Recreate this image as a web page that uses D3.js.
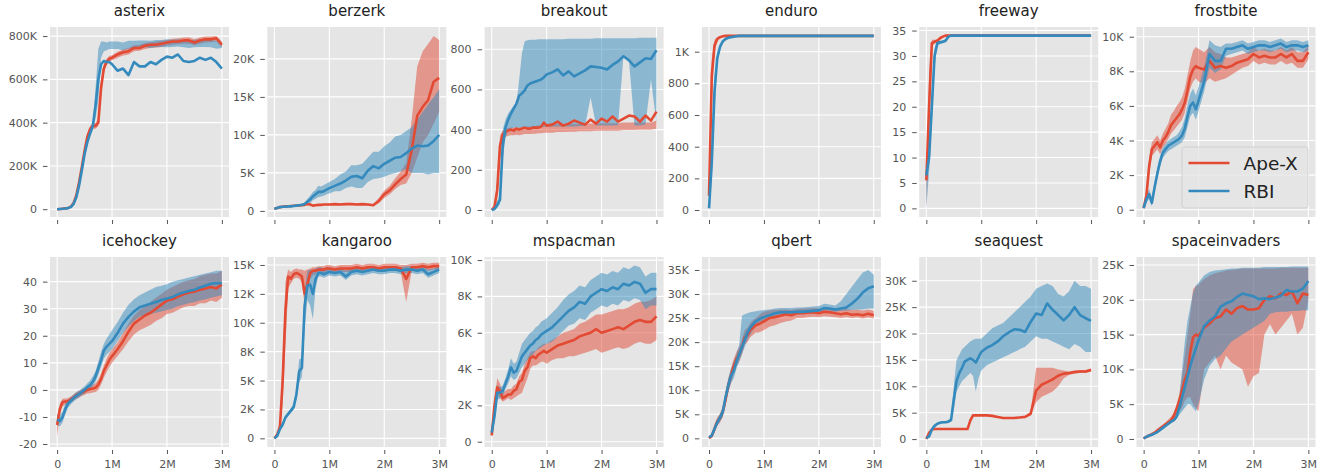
<!DOCTYPE html>
<html>
<head>
<meta charset="utf-8">
<script src="https://cdn.jsdelivr.net/npm/d3@7"></script>
<style>
  body { margin: 0; background: #fff; }
  svg { display: block; font-family: "DejaVu Sans", sans-serif; }
</style>
</head>
<body>
<main></main>
<script>
// training steps, in millions
const steps = [
  0, 0.05, 0.1, 0.15, 0.2, 0.25, 0.3, 0.35, 0.4, 0.45, 0.5,
  0.55, 0.6, 0.65, 0.7, 0.75, 0.8, 0.85, 0.9, 0.95, 1.0,
  1.1, 1.2, 1.3, 1.4, 1.5, 1.6, 1.7, 1.8, 1.9, 2.0,
  2.1, 2.2, 2.3, 2.4, 2.5, 2.6, 2.7, 2.8, 2.9, 3.0,
];
const xTicks = [0, 1, 2, 3];
const xTickLabels = ["0", "1M", "2M", "3M"];

// asterix (K)
const asterixApe = [0,1,2,4,6,12,28,65,125,195,270,
  335,370,385,385,400,560,650,680,695,700,
  715,725,730,745,745,755,760,760,765,770,
  775,775,780,780,770,780,785,785,790,760];
const asterixApeLo = [0,0,0,2,3,8,20,55,112,180,255,
  320,355,372,372,385,530,630,665,680,688,
  700,710,715,730,732,740,745,747,750,755,
  760,762,765,765,758,765,770,772,775,748];
const asterixApeHi = [1,2,4,6,9,16,36,75,138,210,285,
  350,385,398,398,420,590,672,695,708,712,
  728,738,745,758,760,768,772,775,778,782,
  788,790,793,795,785,793,798,798,800,775];
const asterixRbi = [0,1,2,3,5,10,25,55,110,180,255,
  310,350,385,480,600,670,685,680,680,670,
  640,650,620,680,660,660,680,670,690,705,
  700,715,685,680,685,700,690,700,680,650];
const asterixRbiLo = [0,0,0,1,3,7,18,45,98,165,240,
  295,335,370,420,500,700,730,735,740,740,
  740,735,742,745,745,748,745,748,750,748,
  750,752,748,745,748,750,750,748,742,745];
const asterixRbiHi = [1,2,4,5,8,14,33,65,125,195,270,
  325,365,400,560,740,775,775,770,775,775,
  775,770,778,778,780,780,778,782,782,785,
  783,785,782,780,783,785,785,783,778,772];
const asterixTicks = [0, 200, 400, 600, 800];
const asterixLabels = ["0", "200K", "400K", "600K", "800K"];

// berzerk (K)
const berzerkApe = [0.3,0.4,0.5,0.55,0.6,0.62,0.65,0.68,0.7,0.72,0.75,
  0.8,0.9,0.85,0.7,0.75,0.8,0.8,0.85,0.85,0.85,
  0.9,0.85,0.9,0.9,0.85,0.9,0.85,0.75,1.3,2.2,
  2.7,3.5,4.2,4.8,8,12.5,13.7,14.6,17,17.5];
const berzerkApeLo = [0.2,0.3,0.4,0.45,0.5,0.52,0.55,0.58,0.6,0.62,0.65,
  0.7,0.75,0.7,0.6,0.65,0.7,0.7,0.75,0.75,0.75,
  0.8,0.75,0.8,0.8,0.75,0.8,0.75,0.65,1.0,1.7,
  2.2,2.9,3.4,3.6,5,7,9,10,11.5,13];
const berzerkApeHi = [0.4,0.5,0.6,0.65,0.7,0.72,0.75,0.78,0.8,0.82,0.85,
  0.9,1.05,1.0,0.8,0.85,0.9,0.9,0.95,0.95,0.95,
  1.0,0.95,1.0,1.0,0.95,1.0,0.95,0.9,1.7,2.7,
  3.3,4.3,5.2,6.3,12,19,21,22,23,22.5];
const berzerkRbi = [0.3,0.4,0.5,0.55,0.55,0.6,0.6,0.65,0.7,0.75,0.8,
  0.9,1.2,1.5,1.9,2.2,2.5,2.5,2.6,2.8,3.0,
  3.3,3.6,4.0,4.5,4.6,4.3,5.3,5.9,5.6,6.2,
  6.6,7.0,7.1,7.6,8.2,8.6,8.5,8.6,9.2,10.0];
const berzerkRbiLo = [0.2,0.3,0.4,0.45,0.45,0.5,0.5,0.55,0.6,0.65,0.7,
  0.75,0.9,1.0,1.4,1.6,1.8,1.9,2.0,2.2,2.3,
  2.6,2.6,3.0,3.2,3.0,3.0,3.8,4.2,4.3,4.5,
  4.8,5.0,5.2,5.5,5.0,5.0,5.0,4.8,5.0,5.0];
const berzerkRbiHi = [0.4,0.5,0.6,0.65,0.65,0.7,0.7,0.75,0.8,0.85,0.9,
  1.1,1.6,2.0,2.5,2.8,3.3,3.2,3.4,3.6,3.8,
  4.2,4.8,5.2,6.0,6.0,6.2,7.0,7.8,7.8,8.5,
  9.0,9.8,10.0,10.5,11,12,13,14,15,16];
const berzerkTicks = [0, 5, 10, 15, 20];
const berzerkLabels = ["0", "5K", "10K", "15K", "20K"];

// breakout
const breakoutApe = [0,15,100,320,375,390,395,400,395,405,400,
  405,410,405,405,410,410,410,415,435,420,
  425,440,420,430,445,435,425,450,430,455,
  440,465,440,455,470,465,440,470,445,490];
const breakoutApeLo = [0,5,60,250,350,365,370,372,372,375,372,
  375,378,378,378,380,380,382,382,385,385,
  385,388,388,390,390,392,392,392,395,395,
  395,395,395,398,398,398,400,400,400,405];
const breakoutApeHi = [5,30,150,370,395,405,408,410,410,412,412,
  414,415,415,416,418,418,420,420,422,422,
  425,425,425,428,428,428,430,430,430,432,
  432,432,432,435,435,435,435,435,435,445];
const breakoutRbi = [0,5,25,50,320,410,450,480,505,530,570,
  580,595,620,630,635,640,645,650,660,675,
  685,700,670,690,665,680,695,715,712,708,
  700,722,740,765,745,715,735,755,752,795];
const breakoutRbiLo = [0,0,10,30,250,360,395,405,410,410,410,
  410,410,412,412,412,412,413,413,414,414,
  415,415,415,416,416,418,418,560,420,420,
  420,420,420,770,740,420,420,425,650,430];
const breakoutRbiHi = [2,10,45,80,400,450,480,500,520,530,650,
  780,840,845,848,848,848,850,850,850,850,
  850,850,850,852,852,852,852,852,855,855,
  855,855,855,855,855,855,858,858,858,858];
const breakoutTicks = [0, 200, 400, 600, 800];
const breakoutLabels = ["0", "200", "400", "600", "800"];

// enduro
const enduroApe = [90,850,1040,1080,1092,1097,1100,1100,1100,1100,1100,
  1100,1100,1100,1100,1100,1100,1100,1100,1100,1100,
  1100,1100,1100,1100,1100,1100,1100,1100,1100,1100,
  1100,1100,1100,1100,1100,1100,1100,1100,1100,1100];
const enduroApeLo = [70,700,1000,1065,1085,1093,1098,1099,1099,1099,1099,
  1099,1099,1099,1099,1099,1099,1099,1099,1099,1099,
  1099,1099,1099,1099,1099,1099,1099,1099,1099,1099,
  1099,1099,1099,1099,1099,1099,1099,1099,1099,1099];
const enduroApeHi = [110,950,1075,1092,1098,1100,1101,1101,1101,1101,1101,
  1101,1101,1101,1101,1101,1101,1101,1101,1101,1101,
  1101,1101,1101,1101,1101,1101,1101,1101,1101,1101,
  1101,1101,1101,1101,1101,1101,1101,1101,1101,1101];
const enduroRbi = [10,300,750,960,1030,1065,1080,1088,1092,1095,1098,
  1100,1100,1100,1100,1100,1100,1100,1100,1100,1100,
  1100,1100,1100,1100,1100,1100,1100,1100,1100,1100,
  1100,1100,1100,1100,1100,1100,1100,1100,1100,1100];
const enduroRbiLo = [0,200,650,920,1010,1055,1074,1084,1089,1093,1096,
  1099,1099,1099,1099,1099,1099,1099,1099,1099,1099,
  1099,1099,1099,1099,1099,1099,1099,1099,1099,1099,
  1099,1099,1099,1099,1099,1099,1099,1099,1099,1099];
const enduroRbiHi = [25,450,850,1000,1050,1075,1086,1092,1095,1097,1099,
  1101,1101,1101,1101,1101,1101,1101,1101,1101,1101,
  1101,1101,1101,1101,1101,1101,1101,1101,1101,1101,
  1101,1101,1101,1101,1101,1101,1101,1101,1101,1101];
const enduroTicks = [0, 200, 400, 600, 800, 1000];
const enduroLabels = ["0", "200", "400", "600", "800", "1K"];

// freeway
const freewayApe = [5.5,20,32.5,32.8,33,33.5,33.8,34,34,34,34,
  34,34,34,34,34,34,34,34,34,34,
  34,34,34,34,34,34,34,34,34,34,
  34,34,34,34,34,34,34,34,34,34];
const freewayApeLo = [0,14,31.8,32.4,32.7,33.2,33.6,33.8,33.8,33.8,33.8,
  33.8,33.8,33.8,33.8,33.8,33.8,33.8,33.8,33.8,33.8,
  33.8,33.8,33.8,33.8,33.8,33.8,33.8,33.8,33.8,33.8,
  33.8,33.8,33.8,33.8,33.8,33.8,33.8,33.8,33.8,33.8];
const freewayApeHi = [7,27,33.2,33.2,33.3,33.8,34,34.2,34.2,34.2,34.2,
  34.2,34.2,34.2,34.2,34.2,34.2,34.2,34.2,34.2,34.2,
  34.2,34.2,34.2,34.2,34.2,34.2,34.2,34.2,34.2,34.2,
  34.2,34.2,34.2,34.2,34.2,34.2,34.2,34.2,34.2,34.2];
const freewayRbi = [6.5,10,20,30,32.5,32.7,32.8,33,33.8,34,34,
  34,34,34,34,34,34,34,34,34,34,
  34,34,34,34,34,34,34,34,34,34,
  34,34,34,34,34,34,34,34,34,34];
const freewayRbiLo = [0,7,17,28,32,32.3,32.5,32.7,33.5,33.8,33.8,
  33.8,33.8,33.8,33.8,33.8,33.8,33.8,33.8,33.8,33.8,
  33.8,33.8,33.8,33.8,33.8,33.8,33.8,33.8,33.8,33.8,
  33.8,33.8,33.8,33.8,33.8,33.8,33.8,33.8,33.8,33.8];
const freewayRbiHi = [7,13,23,31.5,33,33,33.1,33.3,34,34.2,34.2,
  34.2,34.2,34.2,34.2,34.2,34.2,34.2,34.2,34.2,34.2,
  34.2,34.2,34.2,34.2,34.2,34.2,34.2,34.2,34.2,34.2,
  34.2,34.2,34.2,34.2,34.2,34.2,34.2,34.2,34.2,34.2];
const freewayTicks = [0, 5, 10, 15, 20, 25, 30, 35];
const freewayLabels = ["0", "5", "10", "15", "20", "25", "30", "35"];

// frostbite (K)
const frostbiteApe = [0.1,0.8,2.5,3.5,3.7,3.9,3.6,4.0,4.2,4.5,4.9,
  5.1,5.3,5.5,5.8,6.2,6.9,7.7,8.1,8.3,8.2,
  8.1,8.6,8.2,8.3,8.2,8.3,8.5,8.6,8.7,9.0,
  8.8,8.9,8.8,8.8,9.0,8.8,9.0,8.6,8.6,9.1];
const frostbiteApeLo = [0,0.5,2.0,3.1,3.3,3.5,3.2,3.6,3.8,4.1,4.4,
  4.6,4.8,5.0,5.2,5.6,6.3,7.0,7.4,7.6,7.4,
  7.3,7.6,7.4,7.5,7.6,7.8,8.0,8.2,8.3,8.6,
  8.4,8.5,8.4,8.4,8.6,8.4,8.5,8.2,8.2,8.7];
const frostbiteApeHi = [0.3,1.1,3.0,3.9,4.1,4.3,4.0,4.4,4.7,5.0,5.5,
  5.7,6.0,6.2,6.5,7.0,7.8,8.6,9.2,9.4,9.3,
  9.1,9.4,9.1,9.0,8.8,8.8,8.9,9.0,9.1,9.4,
  9.2,9.3,9.2,9.2,9.4,9.2,9.4,9.1,9.1,9.5];
const frostbiteRbi = [0.1,0.6,0.9,0.4,1.3,2.1,2.8,3.3,3.5,3.7,3.8,
  3.9,4.0,4.1,4.3,4.7,5.4,6.0,6.2,5.8,6.3,
  7.4,9.0,8.6,8.6,9.3,9.3,9.4,9.5,9.3,9.4,
  9.5,9.5,9.4,9.5,9.6,9.4,9.5,9.5,9.4,9.5];
const frostbiteRbiLo = [0,0.4,0.6,0.2,1.0,1.8,2.5,3.0,3.2,3.4,3.5,
  3.6,3.7,3.8,3.9,4.2,4.8,5.4,5.6,5.2,5.7,
  6.8,8.2,7.9,8.1,8.9,9.0,9.1,9.2,9.0,9.1,
  9.2,9.2,9.1,9.2,9.3,9.1,9.2,9.2,9.1,9.2];
const frostbiteRbiHi = [0.2,0.8,1.2,0.7,1.6,2.4,3.1,3.6,3.8,4.0,4.1,
  4.2,4.3,4.5,4.8,5.3,6.1,6.7,7.0,6.6,7.1,
  8.2,9.8,9.5,9.4,9.6,9.6,9.7,9.8,9.6,9.7,
  9.8,9.8,9.7,9.8,9.9,9.7,9.8,9.8,9.7,9.8];
const frostbiteTicks = [0, 2, 4, 6, 8, 10];
const frostbiteLabels = ["0", "2K", "4K", "6K", "8K", "10K"];

// icehockey
const icehockeyApe = [-13,-7,-4.5,-4.3,-4.2,-3.5,-2.8,-2,-1.5,-1,-0.5,
  0,0.3,0.5,0.8,2,4,7,9,11,12.5,
  15,18,21.5,24.5,26,27.5,28.5,30,31.5,33,
  33.5,34.5,35.3,36,36.3,37,37.5,38,37.5,39];
const icehockeyApeLo = [-17,-9,-6,-5.5,-5.3,-4.7,-4,-3.3,-2.8,-2.3,-1.8,
  -1.3,-1.2,-1,-0.8,0,2,4.5,6.5,8.5,10,
  12.5,15,18,20.5,22,23,24,25.5,26.5,28,
  28.5,29.5,30.5,31,31,32,32,33,32.5,34];
const icehockeyApeHi = [-10,-5,-3.3,-3.2,-3,-2.4,-1.7,-0.8,-0.3,0.2,0.7,
  1.3,1.7,2,2.5,3.8,6,9,11.5,13.5,15,
  17.5,21,24.5,27.5,29.5,31,32.5,34,35.5,37,
  38,39,40,40.5,41,42,42.5,43,43,44];
const icehockeyRbi = [-11,-11.5,-10,-7,-5,-4,-3,-2.2,-1.5,-0.8,0,
  1,1.8,3,5,8,11,14.5,16,17,18,
  21,24.5,27,29,30.5,31.2,31.8,32.5,33.2,33.8,
  34.3,35.3,36,36.5,37,37.8,38.5,39.2,39.5,39.4];
const icehockeyRbiLo = [-13,-13.5,-12,-9,-6.5,-5.3,-4.3,-3.5,-2.8,-2,-1.3,
  -0.3,0.3,1.3,3,5.5,8.5,11.5,13,14,15,
  18,21,23.5,25.5,27,27.5,28,28.5,29,29.5,
  30,31,31.5,32,32.5,33,33.5,34,34.5,35];
const icehockeyRbiHi = [-9,-9.5,-8,-5,-3.5,-2.7,-1.7,-0.9,-0.2,0.5,1.3,
  2.5,3.5,5,7,10.5,14,17,19,20.5,22,
  25,28.5,31.5,33.5,35,36,37,38,38.5,39,
  40,40.5,41,41.5,42,42.5,43,43.5,44,44];
const icehockeyTicks = [-20, -10, 0, 10, 20, 30, 40];
const icehockeyLabels = ["-20", "-10", "0", "10", "20", "30", "40"];

// kangaroo (K)
const kangarooApe = [0,0.3,1.0,5,11,14,13.8,14.2,14.3,14.2,14.0,
  12.5,13.3,14.3,14.5,14.5,14.6,14.6,14.6,14.7,14.7,
  14.6,14.7,14.7,14.7,14.8,14.7,14.8,14.8,14.7,14.8,
  14.8,14.8,14.7,13.8,14.8,14.8,14.9,14.8,14.9,14.9];
const kangarooApeLo = [0,0.1,0.6,3,8,13,13.4,13.8,13.9,13.8,13.5,
  11.5,12.5,13.8,14.1,14.2,14.3,14.3,14.3,14.4,14.4,
  14.3,14.4,14.4,14.4,14.5,14.4,14.5,14.5,14.4,14.5,
  14.5,14.5,14.4,11.8,14.5,14.5,14.6,14.5,14.6,14.6];
const kangarooApeHi = [0.2,0.5,1.5,7,13.5,14.6,14.4,14.6,14.7,14.6,14.6,
  14.5,14.6,14.7,14.8,14.8,14.9,14.9,14.9,15.0,15.0,
  14.9,15.0,15.0,15.0,15.1,15.0,15.1,15.1,15.0,15.1,
  15.1,15.1,15.0,15.0,15.1,15.1,15.2,15.1,15.2,15.2];
const kangarooRbi = [0,0.2,0.8,1.2,1.8,2.1,2.4,2.7,3.8,5.8,6.1,
  11.5,13.2,13.3,12.5,13.8,14.3,14.3,14.2,14.3,14.4,
  14.3,14.4,14.0,14.4,14.5,14.4,14.5,14.6,14.5,14.5,
  14.6,14.6,14.5,14.6,14.6,14.5,14.6,14.2,14.4,14.6];
const kangarooRbiLo = [0,0.1,0.6,1.0,1.6,1.9,2.2,2.5,3.3,4.8,5.3,
  9.5,12,11.5,10.3,13,14,14.0,13.9,14.0,14.1,
  14.0,14.1,13.7,14.1,14.2,14.1,14.2,14.3,14.2,14.2,
  14.3,14.3,14.2,14.3,14.3,14.2,14.3,13.9,14.1,14.3];
const kangarooRbiHi = [0.1,0.3,1.0,1.4,2.0,2.3,2.6,3.0,4.3,6.8,7.0,
  12.8,14.5,14.6,14.5,14.7,14.8,14.8,14.7,14.8,14.8,
  14.7,14.8,14.5,14.8,14.8,14.7,14.8,14.9,14.8,14.8,
  14.9,14.9,14.8,14.9,14.9,14.8,14.9,14.6,14.7,14.9];
const kangarooTicks = [0, 2.5, 5, 7.5, 10, 12.5, 15];
const kangarooLabels = ["0", "2K", "5K", "8K", "10K", "12K", "15K"];

// mspacman (K)
const mspacmanApe = [0.35,2.0,3.0,2.8,2.4,2.5,2.6,2.6,2.8,2.9,3.3,
  3.4,3.9,4.1,4.6,4.7,4.6,4.8,4.9,5.0,4.9,
  5.1,5.3,5.4,5.5,5.6,5.8,5.9,6.0,6.2,6.0,
  6.1,6.2,6.3,6.2,6.4,6.6,6.7,6.6,6.6,6.9];
const mspacmanApeLo = [0.2,1.6,2.6,2.4,2.2,2.3,2.4,2.3,2.4,2.5,2.6,
  2.7,3.1,3.5,4.0,4.2,4.2,4.3,4.4,4.4,4.3,
  4.5,4.6,4.6,4.7,4.7,4.8,4.9,5.0,5.1,4.9,
  5.0,5.1,5.2,5.1,5.2,5.4,5.5,5.4,5.4,5.6];
const mspacmanApeHi = [0.5,2.4,3.5,3.2,2.7,2.8,2.9,2.9,3.1,3.2,3.6,
  3.8,4.3,4.6,4.9,5.0,5.0,5.2,5.3,5.4,5.4,
  5.6,5.8,6.0,6.1,6.2,6.5,6.6,6.8,7.0,7.0,
  7.1,7.2,7.3,7.3,7.4,7.6,7.7,7.7,7.8,8.0];
const mspacmanRbi = [0.5,1.4,2.7,2.7,2.8,3.2,3.6,4.1,3.8,3.9,4.3,
  4.7,4.9,5.1,5.3,5.4,5.6,5.7,5.9,6.0,6.1,
  6.3,6.6,6.9,7.2,7.4,7.7,7.6,8.0,8.2,8.4,
  8.3,8.5,8.4,8.7,8.6,8.8,8.7,8.2,8.4,8.4];
const mspacmanRbiLo = [0.3,1.1,2.3,2.4,2.5,2.9,3.2,3.6,3.4,3.5,3.8,
  4.1,4.3,4.5,4.7,4.8,5.0,5.1,5.2,5.3,5.4,
  5.5,5.8,6.1,6.4,6.5,6.8,6.7,7.1,7.3,7.5,
  7.4,7.6,7.5,7.8,7.7,7.9,7.8,7.3,7.5,7.5];
const mspacmanRbiHi = [0.7,1.8,3.1,3.0,3.1,3.5,4.0,4.6,4.3,4.4,4.9,
  5.4,5.6,5.8,6.0,6.1,6.3,6.4,6.6,6.7,6.8,
  7.1,7.4,7.8,8.1,8.3,8.6,8.5,8.9,9.1,9.3,
  9.2,9.4,9.3,9.6,9.5,9.7,9.6,9.1,9.3,9.3];
const mspacmanTicks = [0, 2, 4, 6, 8, 10];
const mspacmanLabels = ["0", "2K", "4K", "6K", "8K", "10K"];

// qbert (K)
const qbertApe = [0,0.5,2,3.5,4.2,5.5,8,11,13,15,16.5,
  17.5,19,21,21.5,22.5,23,23.5,23.7,24,24.3,
  25,25.2,25.5,25.8,25.6,26,26,26.1,26.2,26,
  26.3,26.2,26,25.8,26,25.7,25.8,25.6,25.9,25.6];
const qbertApeLo = [0,0.2,1.2,2.6,3.3,4.5,6.8,9.7,11.5,13.5,15,
  16,17.5,19.5,20,21,21.5,22,22,22.2,22.5,
  23.2,23.5,24,24.3,24.5,25,25,25.2,25.3,25.2,
  25.4,25.3,25.2,25,25.2,25,25.1,24.9,25.1,24.9];
const qbertApeHi = [0.3,1.0,2.8,4.4,5.1,6.5,9.2,12.3,14.5,16.5,18,
  19,20.5,22.5,23,24,24.6,25,25.5,26,26.3,
  26.6,26.7,26.8,26.8,26.7,26.9,27,27,27.1,27,
  27.1,27,26.9,26.8,26.9,26.7,26.8,26.6,26.8,26.5];
const qbertRbi = [0.2,0.6,2,3.3,4.3,5.5,8.5,11,13,14,16,
  17.5,19,20.5,22,23,23.7,24.3,24.7,25,25.2,
  25.6,26,26.2,26.2,26.2,26.3,26.3,26.4,26.5,26.6,
  27.1,27.0,26.8,27.0,27.2,28,29,30.3,31.2,31.6];
const qbertRbiLo = [0,0.3,1.4,2.6,3.5,4.5,7.2,9.5,11.5,12.5,14.5,
  16,17.5,19,20.5,21.5,22.5,23.3,23.8,24.2,24.5,
  25,25.5,25.7,25.8,25.8,25.9,25.9,26,26.1,26.2,
  26.6,26.5,26.3,26.5,26.6,26.7,26.8,26.8,27,27];
const qbertRbiHi = [0.5,1.0,2.6,4.0,5.1,6.5,9.8,12.5,14.5,16,17.5,
  19.5,25.5,25.8,26,26.2,26.3,26.4,26.5,26.6,26.7,
  26.8,27,27.1,27.1,27.1,27.2,27.2,27.3,27.4,27.5,
  28,27.8,27.6,28.5,30,31.5,33,34.5,35,34];
const qbertTicks = [0, 5, 10, 15, 20, 25, 30, 35];
const qbertLabels = ["0", "5K", "10K", "15K", "20K", "25K", "30K", "35K"];

// seaquest (K)
const seaquestApe = [0,1.2,1.8,1.9,1.9,1.9,1.9,1.9,1.9,1.9,1.9,
  1.9,1.9,1.9,1.9,1.9,3.5,4.5,4.5,4.5,4.5,
  4.5,4.4,4.2,4.0,4.0,4.0,4.1,4.2,4.8,9.2,
  10.3,10.8,11.3,12,12.4,12.5,12.7,12.8,12.8,13.1];
const seaquestApeLo = [0,1.0,1.7,1.8,1.8,1.8,1.8,1.8,1.8,1.8,1.8,
  1.8,1.8,1.8,1.8,1.8,3.0,4.4,4.4,4.4,4.4,
  4.4,4.3,4.1,3.9,3.9,3.9,4.0,4.1,4.5,7,
  8,8.5,9,10,11.5,12.2,12.4,12.5,12.5,12.8];
const seaquestApeHi = [0.2,1.4,1.9,2.0,2.0,2.0,2.0,2.0,2.0,2.0,2.0,
  2.0,2.0,2.0,2.0,2.0,4.0,4.6,4.6,4.6,4.6,
  4.6,4.5,4.3,4.1,4.1,4.1,4.2,4.3,5.2,13.5,
  13.5,13.5,13.5,13.2,13,12.8,13,13.1,13.1,13.4];
const seaquestRbi = [0.2,0.5,1.8,2.5,2.9,3.1,3.2,3.2,3.3,3.6,7.5,
  11,12.5,13.5,14.7,15,15.3,15.0,14.5,15.5,16.5,
  17.3,17.8,18.5,19.5,20.2,20.8,20.7,20.3,22.2,23.8,
  23.5,25.7,24.5,23.5,22.5,23.5,25.0,23.5,22.9,22.4];
const seaquestRbiLo = [0,0.3,1.5,2.3,2.7,2.9,3.0,3.0,3.1,3.3,5.5,
  9,10,11,11.5,12,12.5,12,9,11.5,13,
  14,14.5,15,15.5,16,16.5,17,17.5,18.5,19.5,
  19,19,18.5,18,17.5,17,18,17.5,16.5,16.5];
const seaquestRbiHi = [0.4,0.8,2.1,2.7,3.1,3.3,3.4,3.4,3.6,4.2,10,
  15,16,17,17.5,18,18.5,18.8,19,19,19,
  20,21,21.5,22,23,24,25,26,27,28.5,
  29,29.5,29,27.5,27,28,30,29,29,28.5];
const seaquestTicks = [0, 5, 10, 15, 20, 25, 30];
const seaquestLabels = ["0", "5K", "10K", "15K", "20K", "25K", "30K"];

// spaceinvaders (K)
const spaceinvadersApe = [0.1,0.3,0.5,0.7,0.9,1.2,1.5,1.8,2.1,2.4,2.7,
  3.3,4.3,5.5,7,8.5,9.5,12.5,14.6,15,14.8,
  16.0,16.6,17.4,17.6,18.6,18.0,18.8,19.1,18.6,18.6,
  18.8,20.0,20.5,20.2,20.9,20.7,21.2,19.5,20.9,20.7];
const spaceinvadersApeLo = [0,0.1,0.3,0.5,0.7,0.9,1.2,1.5,1.8,2.0,2.3,
  2.8,3.5,4.0,4.5,5.5,6,6,5,4.5,4,
  10,11,12,10,12,11,10.5,10,7.5,9,
  9.5,15,16.5,15,16,17,18,15,16,20];
const spaceinvadersApeHi = [0.2,0.5,0.7,0.9,1.1,1.5,1.8,2.1,2.4,2.8,3.2,
  3.8,5.0,6.5,9,12,15,18,21.5,22,22.2,
  23,23.5,23.8,24,24.2,24.3,24.4,24.5,24.5,24.5,
  24.5,24.5,24.5,24.5,24.6,24.6,24.6,24.6,24.6,24.6];
const spaceinvadersRbi = [0.1,0.3,0.5,0.6,0.8,1.0,1.3,1.6,1.9,2.2,2.5,
  2.7,3.2,4.5,6,7.5,9,10.5,11.8,13,14.2,
  16.2,17.0,17.6,19.0,19.5,19.8,20.4,20.9,20.7,20.5,
  20.1,20.2,20.1,20.3,20.6,21.4,21.2,21.2,21.6,22.7];
const spaceinvadersRbiLo = [0,0.1,0.3,0.4,0.6,0.8,1.1,1.4,1.7,2.0,2.3,
  2.5,2.9,3.5,4,4.5,5,5,4.5,4,5,
  8.5,10.5,11.5,12,13,14,14.5,15,15.5,16,
  16.5,17,18,18.2,18.3,18.3,18.4,18.4,18.5,18.5];
const spaceinvadersRbiHi = [0.2,0.5,0.7,0.8,1.0,1.2,1.5,1.8,2.1,2.4,2.7,
  3.0,3.6,6,10,14,17,19,21,22,22.5,
  23.5,24,24.2,24.3,24.4,24.5,24.5,24.6,24.6,24.6,
  24.6,24.7,24.7,24.7,24.7,24.7,24.8,24.8,24.8,24.8];
const spaceinvadersTicks = [0, 5, 10, 15, 20, 25];
const spaceinvadersLabels = ["0", "5K", "10K", "15K", "20K", "25K"];

const games = [
  { name: "asterix", ape: asterixApe, apeLo: asterixApeLo, apeHi: asterixApeHi, rbi: asterixRbi, rbiLo: asterixRbiLo, rbiHi: asterixRbiHi, ticks: asterixTicks, labels: asterixLabels, domain: [-36, 842] },
  { name: "berzerk", ape: berzerkApe, apeLo: berzerkApeLo, apeHi: berzerkApeHi, rbi: berzerkRbi, rbiLo: berzerkRbiLo, rbiHi: berzerkRbiHi, ticks: berzerkTicks, labels: berzerkLabels, domain: [-0.8, 24.2] },
  { name: "breakout", ape: breakoutApe, apeLo: breakoutApeLo, apeHi: breakoutApeHi, rbi: breakoutRbi, rbiLo: breakoutRbiLo, rbiHi: breakoutRbiHi, ticks: breakoutTicks, labels: breakoutLabels, domain: [-35, 911] },
  { name: "enduro", ape: enduroApe, apeLo: enduroApeLo, apeHi: enduroApeHi, rbi: enduroRbi, rbiLo: enduroRbiLo, rbiHi: enduroRbiHi, ticks: enduroTicks, labels: enduroLabels, domain: [-44, 1156] },
  { name: "freeway", ape: freewayApe, apeLo: freewayApeLo, apeHi: freewayApeHi, rbi: freewayRbi, rbiLo: freewayRbiLo, rbiHi: freewayRbiHi, ticks: freewayTicks, labels: freewayLabels, domain: [-1.7, 35.7] },
  { name: "frostbite", ape: frostbiteApe, apeLo: frostbiteApeLo, apeHi: frostbiteApeHi, rbi: frostbiteRbi, rbiLo: frostbiteRbiLo, rbiHi: frostbiteRbiHi, ticks: frostbiteTicks, labels: frostbiteLabels, domain: [-0.42, 10.56] },
  { name: "icehockey", ape: icehockeyApe, apeLo: icehockeyApeLo, apeHi: icehockeyApeHi, rbi: icehockeyRbi, rbiLo: icehockeyRbiLo, rbiHi: icehockeyRbiHi, ticks: icehockeyTicks, labels: icehockeyLabels, domain: [-21.1, 49.1] },
  { name: "kangaroo", ape: kangarooApe, apeLo: kangarooApeLo, apeHi: kangarooApeHi, rbi: kangarooRbi, rbiLo: kangarooRbiLo, rbiHi: kangarooRbiHi, ticks: kangarooTicks, labels: kangarooLabels, domain: [-0.75, 15.69] },
  { name: "mspacman", ape: mspacmanApe, apeLo: mspacmanApeLo, apeHi: mspacmanApeHi, rbi: mspacmanRbi, rbiLo: mspacmanRbiLo, rbiHi: mspacmanRbiHi, ticks: mspacmanTicks, labels: mspacmanLabels, domain: [-0.29, 10.17] },
  { name: "qbert", ape: qbertApe, apeLo: qbertApeLo, apeHi: qbertApeHi, rbi: qbertRbi, rbiLo: qbertRbiLo, rbiHi: qbertRbiHi, ticks: qbertTicks, labels: qbertLabels, domain: [-1.8, 37.7] },
  { name: "seaquest", ape: seaquestApe, apeLo: seaquestApeLo, apeHi: seaquestApeHi, rbi: seaquestRbi, rbiLo: seaquestRbiLo, rbiHi: seaquestRbiHi, ticks: seaquestTicks, labels: seaquestLabels, domain: [-1.5, 34.5] },
  { name: "spaceinvaders", ape: spaceinvadersApe, apeLo: spaceinvadersApeLo, apeHi: spaceinvadersApeHi, rbi: spaceinvadersRbi, rbiLo: spaceinvadersRbiLo, rbiHi: spaceinvadersRbiHi, ticks: spaceinvadersTicks, labels: spaceinvadersLabels, domain: [-1.15, 26.15] },
];

const apeColor = "#E24A33";
const rbiColor = "#348ABD";

const width = 1329;
const height = 474;
const colStep = 217.3;
const plotW = 179;
const plotH = 190;
const rowTop = [27, 257];

const svg = d3
  .select("main")
  .append("svg")
  .attr("width", width)
  .attr("height", height)
  .attr("viewBox", `0 0 ${width} ${height}`);

games.forEach((g, i) => {
  const col = i % 6;
  const row = Math.floor(i / 6);
  const left = 50 + col * colStep;
  const top = rowTop[row];

  const x = d3.scaleLinear().domain([-0.13, 3.13]).range([0, plotW]);
  const y = d3.scaleLinear().domain(g.domain).range([plotH, 0]);

  const panel = svg.append("g").attr("transform", `translate(${left}, ${top})`);

  panel
    .append("rect")
    .attr("width", plotW)
    .attr("height", plotH)
    .attr("fill", "#E5E5E5");

  // grid
  panel
    .selectAll(".hgrid")
    .data(g.ticks)
    .enter()
    .append("line")
    .attr("x1", 0)
    .attr("x2", plotW)
    .attr("y1", (d) => y(d))
    .attr("y2", (d) => y(d))
    .attr("stroke", "#fff")
    .attr("stroke-width", 1.1);
  panel
    .selectAll(".vgrid")
    .data(xTicks)
    .enter()
    .append("line")
    .attr("y1", 0)
    .attr("y2", plotH)
    .attr("x1", (d) => x(d))
    .attr("x2", (d) => x(d))
    .attr("stroke", "#fff")
    .attr("stroke-width", 1.1);

  const band = (lo, hi) =>
    d3
      .area()
      .x((_, j) => x(steps[j]))
      .y0((_, j) => y(lo[j]))
      .y1((_, j) => y(hi[j]))(steps);
  const line = (vals) =>
    d3
      .line()
      .x((_, j) => x(steps[j]))
      .y((_, j) => y(vals[j]))(steps);

  panel.append("path").attr("d", band(g.apeLo, g.apeHi)).attr("fill", apeColor).attr("fill-opacity", 0.5);
  panel.append("path").attr("d", band(g.rbiLo, g.rbiHi)).attr("fill", rbiColor).attr("fill-opacity", 0.5);
  panel
    .append("path")
    .attr("d", line(g.ape))
    .attr("fill", "none")
    .attr("stroke", apeColor)
    .attr("stroke-width", 2.6)
    .attr("stroke-linejoin", "round");
  panel
    .append("path")
    .attr("d", line(g.rbi))
    .attr("fill", "none")
    .attr("stroke", rbiColor)
    .attr("stroke-width", 2.6)
    .attr("stroke-linejoin", "round");

  // axes
  const yAxis = d3
    .axisLeft(y)
    .tickValues(g.ticks)
    .tickFormat((_, k) => g.labels[k])
    .tickSize(4.5)
    .tickPadding(6);
  const ya = panel.append("g").attr("transform", "translate(-2.5, 0)").call(yAxis);

  const xAxis = d3
    .axisBottom(x)
    .tickValues(xTicks)
    .tickFormat((_, k) => (row === 1 ? xTickLabels[k] : ""))
    .tickSize(4)
    .tickPadding(6.2);
  const xa = panel.append("g").attr("transform", `translate(0, ${plotH + 3})`).call(xAxis);

  [ya, xa].forEach((a) => {
    a.select(".domain").remove();
    a.attr("font-family", null).attr("font-size", null);
    a.selectAll("line").attr("stroke", "#555");
    a.selectAll("text").attr("fill", "#555").attr("font-size", 11);
  });

  panel
    .append("text")
    .attr("x", plotW / 2)
    .attr("y", -11)
    .attr("text-anchor", "middle")
    .attr("font-size", 15)
    .attr("fill", "#222")
    .text(g.name);

  if (g.name === "frostbite") {
    const legend = panel.append("g").attr("transform", `translate(${plotW - 133.5}, ${plotH - 70})`);
    legend
      .append("rect")
      .attr("width", 126)
      .attr("height", 61)
      .attr("rx", 3)
      .attr("fill", "#E5E5E5")
      .attr("fill-opacity", 0.8)
      .attr("stroke", "#CCCCCC")
      .attr("stroke-opacity", 0.8);
    const items = [
      { label: "Ape-X", color: apeColor },
      { label: "RBI", color: rbiColor },
    ];
    items.forEach((it, k) => {
      const ly = 16 + k * 28;
      legend
        .append("line")
        .attr("x1", 6.5)
        .attr("x2", 47.5)
        .attr("y1", ly)
        .attr("y2", ly)
        .attr("stroke", it.color)
        .attr("stroke-width", 2.5);
      legend
        .append("text")
        .attr("x", 61.5)
        .attr("y", ly + 7)
        .attr("font-size", 18.5)
        .attr("fill", "#222")
        .text(it.label);
    });
  }
});
</script>
</body>
</html>
